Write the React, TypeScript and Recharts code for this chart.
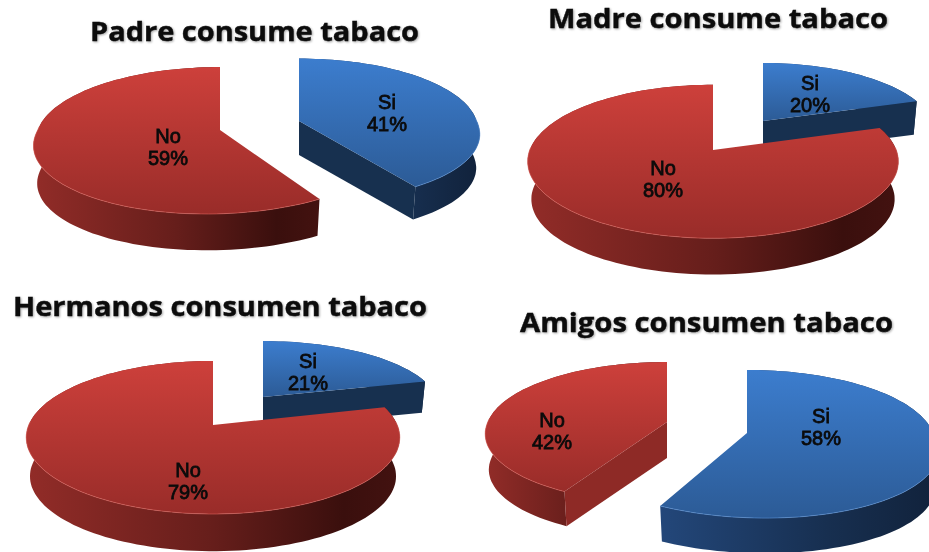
import { Pie, PieChart } from 'recharts';

const categories = ['Si', 'No'];
const padreValues = [41, 59];
const madreValues = [20, 80];
const hermanosValues = [21, 79];
const amigosValues = [58, 42];

const toRows = (values: number[]) => categories.map((name, i) => ({ name, value: values[i] }));

// Rough 3D look: each slice is pulled out by (dx, dy), flattened by sx/sy, and k adds the perspective.
interface SliceLook {
  dx: number;
  dy: number;
  sx: number;
  sy: number;
  k: number;
  depth: number;
  shear: number;
  labelX: number;
  labelY: number;
}

interface Panel {
  key: string;
  title: string;
  titleX: number;
  titleY: number;
  titleWidth: number;
  rows: { name: string; value: number }[];
  cx: number;
  cy: number;
  radius: number;
  looks: Record<string, SliceLook>;
}

const panels: Panel[] = [
  {
    key: 'padre',
    title: 'Padre consume tabaco',
    titleX: 90,
    titleY: 41,
    titleWidth: 329,
    rows: toRows(padreValues),
    cx: 220,
    cy: 130,
    radius: 185,
    looks: {
      Si: { dx: 79, dy: -9, sx: 0.96, sy: 0.378, k: 0.12, depth: 34, shear: 0.07, labelX: 387, labelY: 109 },
      No: { dx: 0, dy: 0, sx: 0.985, sy: 0.389, k: 0.143, depth: 38, shear: -0.075, labelX: 168, labelY: 143 },
    },
  },
  {
    key: 'madre',
    title: 'Madre consume tabaco',
    titleX: 548,
    titleY: 28,
    titleWidth: 340,
    rows: toRows(madreValues),
    cx: 713,
    cy: 150,
    radius: 187,
    looks: {
      Si: { dx: 50, dy: -29, sx: 0.904, sy: 0.357, k: 0.15, depth: 33, shear: 0, labelX: 810, labelY: 90 },
      No: { dx: 0, dy: 0, sx: 0.98, sy: 0.401, k: 0.15, depth: 38, shear: 0, labelX: 663, labelY: 175 },
    },
  },
  {
    key: 'hermanos',
    title: 'Hermanos consumen tabaco',
    titleX: 13,
    titleY: 316,
    titleWidth: 414,
    rows: toRows(hermanosValues),
    cx: 213,
    cy: 425,
    radius: 189,
    looks: {
      Si: { dx: 50, dy: -28, sx: 0.921, sy: 0.344, k: 0.163, depth: 31, shear: 0, labelX: 308, labelY: 368 },
      No: { dx: 0, dy: 0, sx: 0.975, sy: 0.394, k: 0.163, depth: 39, shear: 0, labelX: 188, labelY: 477 },
    },
  },
  {
    key: 'amigos',
    title: 'Amigos consumen tabaco',
    titleX: 520,
    titleY: 332,
    titleWidth: 373,
    rows: toRows(amigosValues),
    cx: 667,
    cy: 422,
    radius: 181,
    looks: {
      Si: { dx: 80, dy: 11, sx: 1.028, sy: 0.4, k: 0.149, depth: 37, shear: 0.1, labelX: 821, labelY: 423 },
      No: { dx: 0, dy: 0, sx: 0.99, sy: 0.381, k: 0.15, depth: 36, shear: -0.02, labelX: 552, labelY: 427 },
    },
  },
];

const colors: Record<string, { cut: string; rim: string }> = {
  Si: { cut: '#17304f', rim: '#5a93d8' },
  No: { cut: '#8e2a26', rim: '#d9605a' },
};

const BOTTOM_SCALE = 0.98;

function project(look: SliceLook, cx: number, cy: number, r: number, deg: number, bottom = false) {
  const a = (deg * Math.PI) / 180;
  const u = Math.cos(a);
  const v = -Math.sin(a);
  const w = 1 - look.k * v;
  let x = (r * look.sx * u) / w + look.shear * r * look.sx * Math.max(v, 0);
  let y = (r * look.sy * v) / w;
  if (bottom) {
    x *= BOTTOM_SCALE;
    y = y * BOTTOM_SCALE + look.depth;
  }
  return [cx + look.dx + x, cy + look.dy + y];
}

const toPath = (points: number[][], close = true) =>
  points.map((p, i) => `${i ? 'L' : 'M'}${p[0].toFixed(1)} ${p[1].toFixed(1)}`).join(' ') + (close ? ' Z' : '');

function Slice3D(props: any, looks: Record<string, SliceLook>) {
  const { cx, cy, outerRadius, startAngle, endAngle, payload } = props;
  const name = payload?.name ?? props.name;
  const look = looks[name];

  const angles: number[] = [];
  const steps = Math.max(8, Math.ceil(Math.abs(endAngle - startAngle) / 2));
  for (let i = 0; i <= steps; i++) angles.push(startAngle + ((endAngle - startAngle) * i) / steps);

  const top = angles.map((d) => project(look, cx, cy, outerRadius, d));
  const low = angles.map((d) => project(look, cx, cy, outerRadius, d, true));
  const apex = [cx + look.dx, cy + look.dy];
  const apexLow = [apex[0], apex[1] + look.depth];
  const last = top.length - 1;

  // a cut face only shows when it turns towards the viewer
  const showStart = Math.cos((startAngle * Math.PI) / 180) < -0.001;
  const showEnd = Math.cos((endAngle * Math.PI) / 180) > 0.001;

  // front part of the rim gets the thin light edge
  const front = top.filter((_, i) => Math.sin((angles[i] * Math.PI) / 180) < 0.05);

  return (
    <g>
      <path d={toPath([...top, ...[...low].reverse()])} fill={`url(#wall${name})`} />
      {showStart && <path d={toPath([apex, top[0], low[0], apexLow])} fill={colors[name].cut} />}
      {showEnd && <path d={toPath([apex, top[last], low[last], apexLow])} fill={colors[name].cut} />}
      <path d={toPath([apex, ...top])} fill={`url(#top${name})`} />
      {front.length > 1 && (
        <path d={toPath(front, false)} fill="none" stroke={colors[name].rim} strokeWidth={1} strokeOpacity={0.6} />
      )}
    </g>
  );
}

function SliceLabel(props: any, looks: Record<string, SliceLook>) {
  const name = props.payload?.name ?? props.name;
  const look = looks[name];
  return (
    <text
      key={name}
      fontFamily="Liberation Sans"
      fontWeight={400}
      fontSize={20}
      fill="#0b0b0b"
      stroke="#0b0b0b"
      strokeWidth={0.8}
      textAnchor="middle"
    >
      <tspan x={look.labelX} y={look.labelY}>
        {name}
      </tspan>
      <tspan x={look.labelX} y={look.labelY + 22}>
        {`${props.payload?.value ?? props.value}%`}
      </tspan>
    </text>
  );
}

export default function App() {
  return (
    <div
      style={{
        position: 'absolute',
        left: 0,
        top: 0,
        width: 929,
        height: 552,
        overflow: 'hidden',
        background: '#fff',
        filter: 'blur(0.5px)',
      }}
    >
      <PieChart width={929} height={552} margin={{ top: 0, right: 0, bottom: 0, left: 0 }}>
        <defs>
          <linearGradient id="topSi" x1="0" y1="0" x2="0" y2="1">
            <stop offset="0%" stopColor="#3c7dce" />
            <stop offset="100%" stopColor="#2c5b96" />
          </linearGradient>
          <linearGradient id="topNo" x1="0" y1="0" x2="0" y2="1">
            <stop offset="0%" stopColor="#cd403b" />
            <stop offset="100%" stopColor="#992c29" />
          </linearGradient>
          <linearGradient id="wallSi" x1="0" y1="0" x2="1" y2="0">
            <stop offset="0%" stopColor="#23477a" />
            <stop offset="60%" stopColor="#172f50" />
            <stop offset="100%" stopColor="#11223b" />
          </linearGradient>
          <linearGradient id="wallNo" x1="0" y1="0" x2="1" y2="0">
            <stop offset="0%" stopColor="#922c28" />
            <stop offset="50%" stopColor="#661e1b" />
            <stop offset="85%" stopColor="#3a0f0d" />
            <stop offset="100%" stopColor="#431210" />
          </linearGradient>
        </defs>
        {panels.map((panel) => (
          <Pie
            key={panel.key}
            data={panel.rows}
            dataKey="value"
            nameKey="name"
            cx={panel.cx}
            cy={panel.cy}
            innerRadius={0}
            outerRadius={panel.radius}
            startAngle={90}
            endAngle={-270}
            stroke="none"
            isAnimationActive={false}
            labelLine={false}
            shape={(p: any) => Slice3D(p, panel.looks)}
            label={(p: any) => SliceLabel(p, panel.looks)}
          />
        ))}
        {panels.map((panel) => (
          <text
            key={panel.key}
            x={panel.titleX}
            y={panel.titleY}
            textLength={panel.titleWidth}
            lengthAdjust="spacingAndGlyphs"
            fontFamily="Open Sans"
            fontWeight={700}
            fontSize={27}
            fill="#0c0c0c"
            stroke="#0c0c0c"
            strokeWidth={0.4}
            style={{ filter: 'drop-shadow(1px 1px 1px rgba(0,0,0,0.35))' }}
          >
            {panel.title}
          </text>
        ))}
      </PieChart>
    </div>
  );
}
